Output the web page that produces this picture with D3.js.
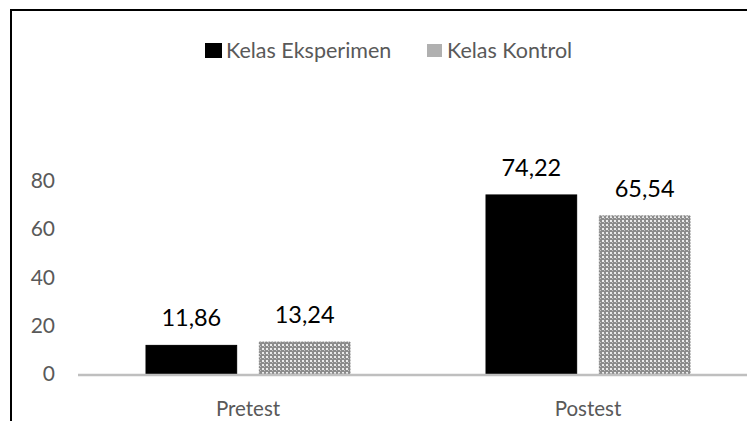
<!DOCTYPE html>
<html>
<head>
<meta charset="utf-8">
<script src="https://cdn.jsdelivr.net/npm/d3@7"></script>
<style>
  body { margin: 0; background: #fff; }
  svg { display: block; font-family: Lato, "Open Sans", sans-serif; }
</style>
</head>
<body>
<svg id="chart" width="747" height="421"></svg>
<script>
const categories = ["Pretest", "Postest"]
const seriesNames = ["Kelas Eksperimen", "Kelas Kontrol"]
const eksperimen = [11.86, 74.22]
const kontrol = [13.24, 65.54]
const yTicks = [0, 20, 40, 60, 80]

const svg = d3.select("#chart")
const W = 747, H = 421
const margin = { top: 150, right: -11, bottom: 47, left: 78 }

// chart frame (cut off right and bottom)
svg.append("rect")
  .attr("x", 11).attr("y", 10)
  .attr("width", 800).attr("height", 500)
  .attr("fill", "#fff").attr("stroke", "#000").attr("stroke-width", 2)

// gray checker pattern for the control bars
const defs = svg.append("defs")
const pat = defs.append("pattern")
  .attr("id", "checker")
  .attr("patternUnits", "userSpaceOnUse")
  .attr("width", 4).attr("height", 4)
pat.append("rect").attr("width", 4).attr("height", 4).attr("fill", "#8c8c8c")
pat.append("rect").attr("x", 0).attr("y", 0).attr("width", 2).attr("height", 2).attr("fill", "#ececec")
pat.append("rect").attr("x", 2).attr("y", 2).attr("width", 1).attr("height", 1).attr("fill", "#c4c4c4")

const x0 = d3.scaleBand()
  .domain(categories)
  .range([margin.left, W - margin.right])
  .paddingInner(0).paddingOuter(0)
const x1 = d3.scaleBand()
  .domain(seriesNames)
  .range([0, 204])
  .paddingInner(0.2)
const y = d3.scaleLinear().domain([0, 80]).range([374, 181])

// y axis labels
const yAxis = d3.axisLeft(y).tickValues(yTicks).tickSize(0).tickPadding(0)
const gy = svg.append("g").attr("transform", "translate(55,0)").call(yAxis)
gy.select(".domain").remove()
gy.selectAll("text").attr("fill", "#595959").style("font-size", "21px").style("font-family", "Lato, sans-serif")

const groups = svg.selectAll("g.grp")
  .data(categories)
  .enter().append("g")
  .attr("class", "grp")
  .attr("transform", d => "translate(" + (x0(d) + x0.bandwidth() / 2 - 102) + ",0)")

const fills = ["#000", "url(#checker)"]
const strokes = ["#000", "#808080"]
groups.selectAll("rect")
  .data((d, i) => [eksperimen[i], kontrol[i]].map((v, j) => ({ v: v, s: seriesNames[j], j: j })))
  .enter().append("rect")
  .attr("x", d => x1(d.s))
  .attr("width", x1.bandwidth())
  .attr("y", d => y(d.v))
  .attr("height", d => y(0) - y(d.v))
  .attr("fill", d => fills[d.j])
  .attr("stroke", d => strokes[d.j])
  .attr("stroke-width", 1)
  .attr("stroke-dasharray", d => d.j ? "2,1" : null)

groups.selectAll("text.val")
  .data((d, i) => [eksperimen[i], kontrol[i]].map((v, j) => ({ v: v, s: seriesNames[j] })))
  .enter().append("text")
  .attr("class", "val")
  .attr("x", d => x1(d.s) + x1.bandwidth() / 2)
  .attr("y", d => y(d.v) - 19)
  .attr("text-anchor", "middle")
  .attr("fill", "#000")
  .style("font-size", "23.5px")
  .text(d => d3.format(".2f")(d.v).replace(".", ","))

// baseline
svg.append("line")
  .attr("x1", margin.left).attr("x2", W)
  .attr("y1", y(0) + 1).attr("y2", y(0) + 1)
  .attr("stroke", "#bfbfbf").attr("stroke-width", 2.5)

// category labels
const xAxis = d3.axisBottom(x0).tickSize(0).tickPadding(0)
const gx = svg.append("g").attr("transform", "translate(0,401)").call(xAxis)
gx.select(".domain").remove()
gx.selectAll("text").attr("fill", "#595959").style("font-size", "20.5px").style("font-family", "Lato, sans-serif")

// legend
const legend = svg.append("g").attr("class", "legend")
const legX = [205, 427]
seriesNames.forEach((name, i) => {
  const g = legend.append("g").attr("transform", "translate(" + legX[i] + ",43)")
  g.append("rect")
    .attr("x", 0).attr("y", i ? 1 : 0)
    .attr("width", i ? 15 : 17).attr("height", i ? 13 : 15)
    .attr("fill", i ? "#b0b0b0" : "#000")
  g.append("text")
    .attr("x", i ? 20 : 21).attr("y", 15)
    .attr("fill", "#595959")
    .style("font-size", "21.5px")
    .text(name)
})
</script>
</body>
</html>
